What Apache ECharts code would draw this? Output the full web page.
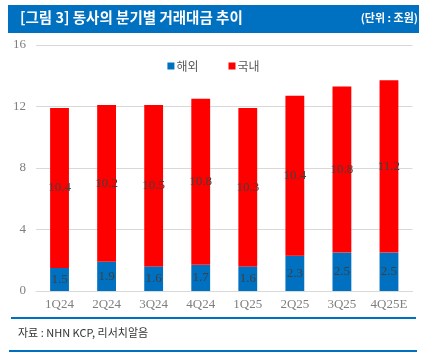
<!DOCTYPE html>
<html><head><meta charset="utf-8">
<script src="https://cdn.jsdelivr.net/npm/echarts@6/dist/echarts.min.js"></script>
<style>html,body{margin:0;padding:0;background:#fff}#c{width:427px;height:364px}</style>
</head><body><div id="c"></div>
<script>
const categories = ['1Q24','2Q24','3Q24','4Q24','1Q25','2Q25','3Q25','4Q25E'];
const overseas = [1.5,1.9,1.6,1.7,1.6,2.3,2.5,2.5];
const domestic = [10.4,10.2,10.5,10.8,10.3,10.4,10.8,11.2];
const yTicks = [0,4,8,12,16];
const seriesNames = ['해외','국내'];

const chart = echarts.init(document.getElementById('c'), null, {renderer:'canvas'});
const serif = '"Liberation Serif", "Times New Roman", serif';
const kr = '"Noto Sans CJK KR", "Noto Sans", sans-serif';
const lbl = {show:true, position:'inside', color:'#404040', fontFamily:serif, fontSize:13};
chart.setOption({
  animation:false,
  graphic:[
    {type:'rect', shape:{x:8,y:5,width:411,height:28}, style:{fill:'#0070C0'}},
    {type:'text', left:20, top:10, style:{text:'[그림 3] 동사의 분기별 거래대금 추이', fill:'#fff', font:'bold 14.5px '+kr}},
    {type:'text', right:9, top:12, style:{text:'(단위 : 조원)', fill:'#fff', font:'bold 11px '+kr}},
    {type:'line', shape:{x1:11,y1:318,x2:416,y2:318}, style:{stroke:'#0070C0', lineWidth:2}},
    {type:'text', left:18, top:327, style:{text:'자료 : NHN KCP, 리서치알음', fill:'#333', font:'11px '+kr}},
    {type:'line', shape:{x1:9,y1:351,x2:417,y2:351}, style:{stroke:'#0070C0', lineWidth:2}}
  ],
  legend:{
    data:seriesNames, top:55, left:'center', itemWidth:7, itemHeight:7, itemGap:30, icon:'rect',
    textStyle:{color:'#595959', fontFamily:kr, fontSize:12, padding:[0,0,0,-3]}
  },
  grid:{left:36, right:14.5, top:45, bottom:73, containLabel:false},
  xAxis:{
    type:'category', data:categories,
    axisLine:{lineStyle:{color:'#d9d9d9'}}, axisTick:{show:false},
    axisLabel:{color:'#7f7f7f', fontFamily:serif, fontSize:13, margin:7, interval:0}
  },
  yAxis:{
    type:'value', min:yTicks[0], max:yTicks[yTicks.length-1], interval:4,
    axisLine:{show:false}, axisTick:{show:false},
    splitLine:{lineStyle:{color:'#d9d9d9'}},
    axisLabel:{color:'#7f7f7f', fontFamily:serif, fontSize:13, margin:10}
  },
  series:[
    {name:seriesNames[0], type:'bar', stack:'t', data:overseas, barWidth:'40%', itemStyle:{color:'#0070C0'}, label:lbl},
    {name:seriesNames[1], type:'bar', stack:'t', data:domestic, barWidth:'40%', itemStyle:{color:'#FF0000'}, label:lbl}
  ]
});
</script></body></html>
